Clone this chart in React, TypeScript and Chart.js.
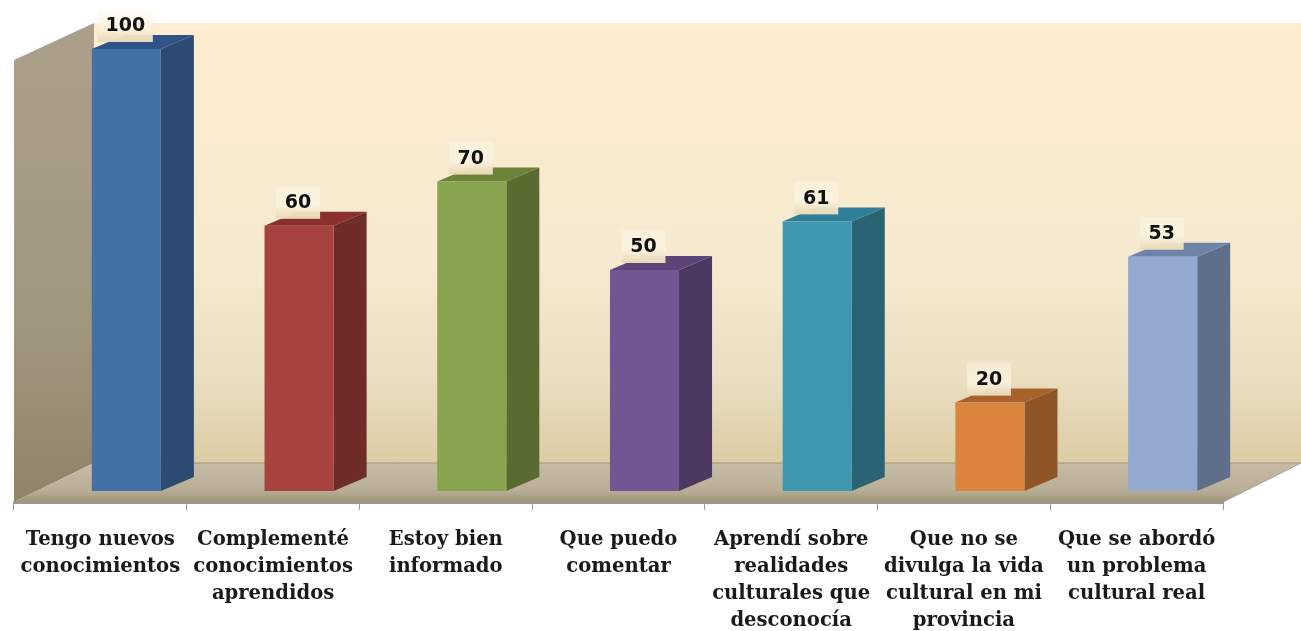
import React, { useEffect, useRef } from "react";
import { Chart, registerables } from "chart.js";

Chart.register(...registerables);

const categories: string[][] = [
  ["Tengo nuevos", "conocimientos"],
  ["Complementé", "conocimientos", "aprendidos"],
  ["Estoy bien", "informado"],
  ["Que puedo", "comentar"],
  ["Aprendí sobre", "realidades", "culturales que", "desconocía"],
  ["Que no se", "divulga la vida", "cultural en mi", "provincia"],
  ["Que se abordó", "un problema", "cultural real"],
];
const values: number[] = [100, 60, 70, 50, 61, 20, 53];
const frontColors = ["#4470A8", "#A8423F", "#88A44F", "#725694", "#4098B0", "#DB843D", "#93A9CF"];
const sideColors = ["#2C4A72", "#6E2C2A", "#5A6B31", "#4B3860", "#2A6474", "#8F5526", "#5F6E89"];
const topColors = ["#2F5488", "#8A302E", "#6B8238", "#5A4478", "#2F7F99", "#A86129", "#6F82A8"];

const WALL_DX = 80;
const WALL_DY = 39;
const BAR_SHIFT_X = 26;
const BAR_SHIFT_Y = -11;
const BAR_DX = 33;
const BAR_DY = 14;

function poly(ctx: CanvasRenderingContext2D, pts: number[][], fill: string | CanvasGradient) {
  ctx.beginPath();
  pts.forEach((p, i) => (i ? ctx.lineTo(p[0], p[1]) : ctx.moveTo(p[0], p[1])));
  ctx.closePath();
  ctx.fillStyle = fill;
  ctx.fill();
}

const walls = {
  id: "walls",
  beforeDraw(chart: any) {
    const { ctx, chartArea: a, width } = chart;
    const backTop = a.top - 37;
    const backBottom = a.bottom - WALL_DY;
    ctx.save();
    const bg = ctx.createLinearGradient(0, backTop, 0, backBottom);
    bg.addColorStop(0, "#FEEDD0");
    bg.addColorStop(0.55, "#F5E9CF");
    bg.addColorStop(0.8, "#EBDFC2");
    bg.addColorStop(1, "#DCCCA4");
    poly(ctx, [[a.left + WALL_DX, backTop], [width, backTop], [width, backBottom], [a.left + WALL_DX, backBottom]], bg);
    const lw = ctx.createLinearGradient(0, a.top, 0, a.bottom);
    lw.addColorStop(0, "#A99F8B");
    lw.addColorStop(0.6, "#A0977F");
    lw.addColorStop(1, "#8F8468");
    poly(ctx, [[a.left, a.top], [a.left + WALL_DX, backTop], [a.left + WALL_DX, backBottom], [a.left, a.bottom]], lw);
    const fl = ctx.createLinearGradient(0, backBottom, 0, a.bottom);
    fl.addColorStop(0, "#C6BCA6");
    fl.addColorStop(0.7, "#B9AF97");
    fl.addColorStop(1, "#9E9479");
    poly(ctx, [[a.left, a.bottom], [a.left + WALL_DX, backBottom], [width, backBottom], [a.right, a.bottom]], fl);
    ctx.strokeStyle = "#9C947F";
    ctx.lineWidth = 1;
    ctx.beginPath();
    ctx.moveTo(a.left + WALL_DX, backBottom);
    ctx.lineTo(width, backBottom);
    ctx.stroke();
    ctx.strokeStyle = "#A8A08C";
    ctx.beginPath();
    ctx.moveTo(a.right, a.bottom);
    ctx.lineTo(width, backBottom);
    ctx.stroke();
    ctx.restore();
  },
  beforeDatasetsDraw(chart: any) {
    const { ctx } = chart;
    ctx.save();
    ctx.translate(BAR_SHIFT_X, BAR_SHIFT_Y);
    chart.getDatasetMeta(0).data.forEach((bar: any, i: number) => {
      const l = bar.x - bar.width / 2;
      const r = bar.x + bar.width / 2;
      poly(ctx, [[r, bar.y], [r + BAR_DX, bar.y - BAR_DY], [r + BAR_DX, bar.base - BAR_DY], [r, bar.base]], sideColors[i]);
      poly(ctx, [[l, bar.y], [l + BAR_DX, bar.y - BAR_DY], [r + BAR_DX, bar.y - BAR_DY], [r, bar.y]], topColors[i]);
    });
  },
  afterDatasetsDraw(chart: any) {
    const { ctx } = chart;
    chart.getDatasetMeta(0).data.forEach((bar: any, i: number) => {
      const text = String(values[i]);
      const w = text.length > 2 ? 55 : 44;
      const h = 33;
      const x = bar.x - w / 2 - 1;
      const y = bar.y - 7 - h;
      const g = ctx.createLinearGradient(0, y, 0, y + h);
      g.addColorStop(0, "rgba(253,248,235,0.4)");
      g.addColorStop(0.6, "rgba(250,242,222,0.9)");
      g.addColorStop(1, "rgba(232,217,182,1)");
      ctx.fillStyle = g;
      ctx.fillRect(x, y, w, h);
      ctx.fillStyle = "#111111";
      ctx.font = "bold 19px 'DejaVu Sans'";
      ctx.textAlign = "center";
      ctx.textBaseline = "middle";
      ctx.fillText(text, bar.x - 1, y + h / 2 + 1);
    });
    ctx.restore();
  },
};

export default function App() {
  const ref = useRef<HTMLCanvasElement>(null);
  useEffect(() => {
    const chart = new Chart(ref.current as HTMLCanvasElement, {
      type: "bar",
      plugins: [walls],
      data: {
        labels: categories as any,
        datasets: [
          {
            data: values,
            backgroundColor: frontColors,
            barPercentage: 0.4,
            categoryPercentage: 1,
            clip: false as any,
          },
        ],
      },
      options: {
        responsive: false,
        animation: false,
        layout: { padding: { left: 14, right: 78, top: 60, bottom: 0 } },
        plugins: { legend: { display: false }, tooltip: { enabled: false } },
        scales: {
          x: {
            afterFit(scale: any) {
              scale.height = 129;
              scale.paddingLeft = 0;
              scale.paddingRight = 0;
            },
            grid: {
              display: true,
              drawOnChartArea: false,
              drawTicks: true,
              tickLength: 8,
              offset: true,
              color: "#9A9A9A",
            },
            border: { display: true, color: "#A0978A", width: 3 },
            ticks: {
              autoSkip: false,
              maxRotation: 0,
              minRotation: 0,
              padding: 16,
              color: "#1A1A1A",
              font: { family: "'DejaVu Serif'", size: 19.6, weight: "bold", lineHeight: 1.38 },
            },
          },
          y: {
            display: false,
            min: 0,
            max: 100,
          },
        },
      } as any,
    });
    return () => chart.destroy();
  }, []);
  return (
    <div style={{ position: "absolute", left: 0, top: 0 }}>
      <canvas ref={ref} width={1301} height={631} style={{ display: "block" }} />
    </div>
  );
}
